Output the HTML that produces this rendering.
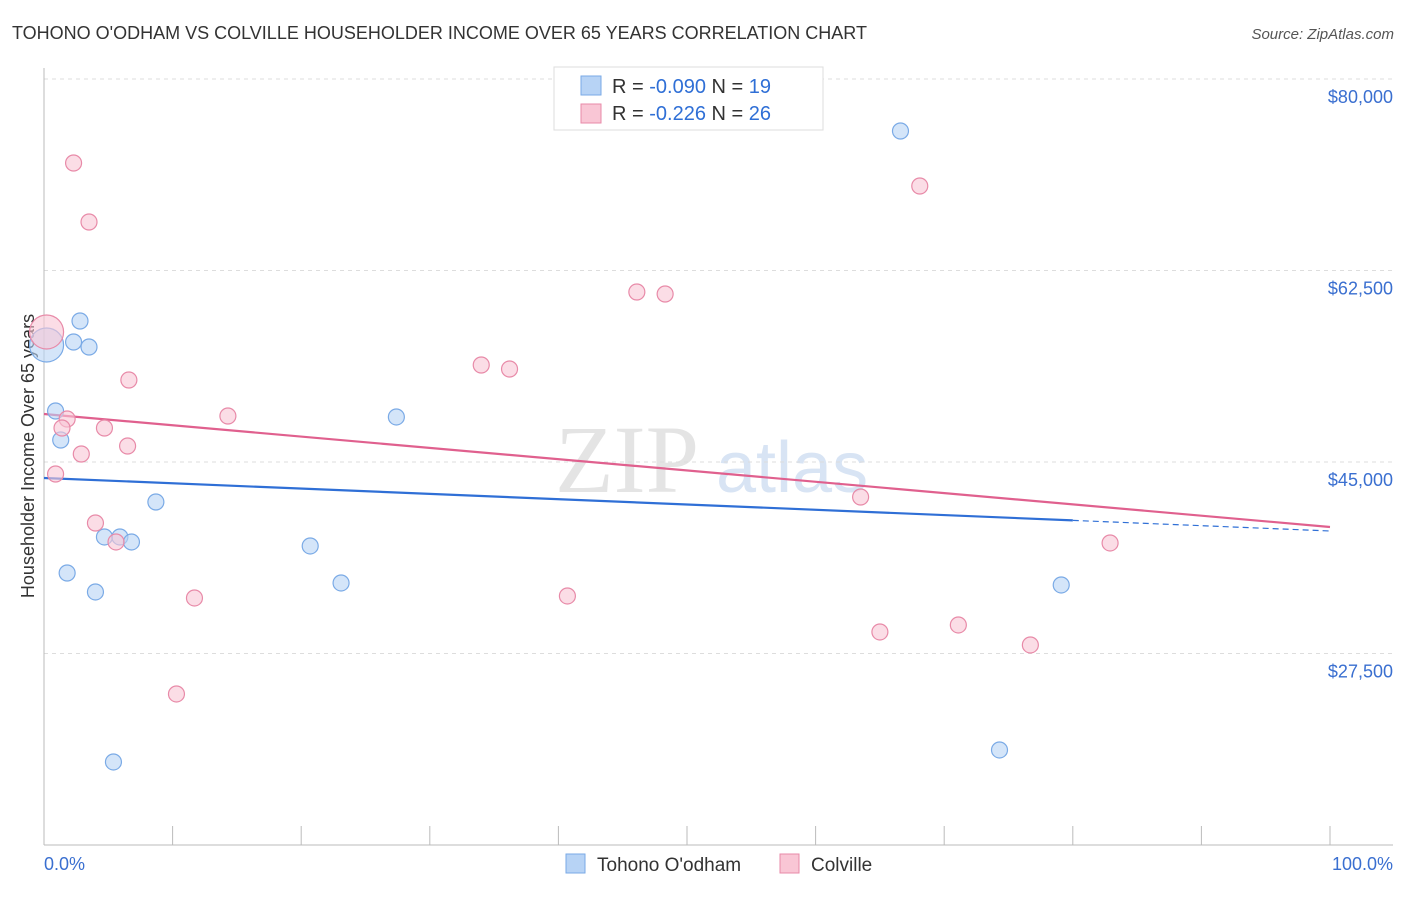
<!DOCTYPE html>
<html><head><meta charset="utf-8"><style>
body{margin:0;background:#fff;font-family:"Liberation Sans",sans-serif;}
</style></head><body>
<svg id="chart" width="1406" height="892" xmlns="http://www.w3.org/2000/svg" style="font-family:'Liberation Sans',sans-serif">
<text x="12" y="39" font-size="18" fill="#333">TOHONO O'ODHAM VS COLVILLE HOUSEHOLDER INCOME OVER 65 YEARS CORRELATION CHART</text>
<text x="1394" y="39" font-size="15" fill="#555" text-anchor="end" font-style="italic">Source: ZipAtlas.com</text>
<text x="555" y="492" font-size="96" fill="#e4e4e4" font-family="Liberation Serif">ZIP</text>
<text x="716" y="492" font-size="72" fill="#d8e4f4">atlas</text>
<text transform="translate(34,456) rotate(-90)" font-size="18" fill="#333" text-anchor="middle">Householder Income Over 65 years</text>
<g id="grid"></g><g id="axes"></g><g id="lines"></g><g id="pts"></g>
<g>
<rect x="554" y="67" width="269" height="63" fill="#fff" stroke="#ddd"/>
<rect x="581" y="76" width="20" height="19" fill="#b7d3f5" stroke="#7aaae6"/>
<rect x="581" y="104" width="20" height="19" fill="#f9c6d5" stroke="#e88aa8"/>
<text x="612" y="93" font-size="20" fill="#333">R = <tspan fill="#2f6fd6">-0.090</tspan>   N = <tspan fill="#2f6fd6"> 19</tspan></text>
<text x="612" y="120" font-size="20" fill="#333">R =  <tspan fill="#2f6fd6">-0.226</tspan>   N = <tspan fill="#2f6fd6">26</tspan></text>
</g>
<g>
<rect x="566" y="854" width="19" height="19" fill="#b7d3f5" stroke="#7aaae6"/>
<text x="597" y="871" font-size="19" fill="#333">Tohono O'odham</text>
<rect x="780" y="854" width="19" height="19" fill="#f9c6d5" stroke="#e88aa8"/>
<text x="811" y="871" font-size="19" fill="#333">Colville</text>
</g>
<text x="44" y="870" font-size="18" fill="#3a6fd0">0.0%</text>
<text x="1393" y="870" font-size="18" fill="#3a6fd0" text-anchor="end">100.0%</text>
</svg>
<script>
const yTicks=[80000,62500,45000,27500];
const yTickLabels=["$80,000","$62,500","$45,000","$27,500"];
const blueX=[0.2,2.8,2.3,3.5,0.9,1.3,8.7,4.7,5.9,6.8,1.8,4.0,20.7,23.1,27.4,66.6,79.1,74.3,5.4];
const blueY=[55693,57886,55967,55510,49662,47012,41346,38148,38148,37691,34858,33122,37326,33945,49114,75248,33762,18684,17587];
const pinkX=[0.2,2.3,3.5,6.6,1.8,14.3,4.7,6.5,2.9,0.9,4.0,5.6,11.7,10.3,46.1,48.3,34.0,36.2,40.7,63.5,68.1,65.0,71.1,76.7,82.9,1.4];
const pinkY=[56881,72324,66933,52495,48931,49205,48108,46463,45732,43905,39427,37691,32574,23802,60536,60353,53865,53500,32757,41803,70222,29467,30107,28279,37600,48108];
const blueTrend=[43540,38696];
const pinkTrend=[49388,39062];
const blueSolidEnd=80;
const X0=44,X1=1330,Y80=79,PPV=191.5/17500;
const sx=v=>X0+(X1-X0)*v/100, sy=v=>Y80+(80000-v)*PPV;
const NS="http://www.w3.org/2000/svg";
function mk(p,t,a){const e=document.createElementNS(NS,t);for(const k in a)e.setAttribute(k,a[k]);document.getElementById(p).appendChild(e);return e;}
yTicks.forEach((t,i)=>{
 const l=mk('grid','line',{x1:X0,x2:1393,y1:sy(t),y2:sy(t),stroke:'#ddd','stroke-dasharray':'4,4'});
 
 
 const tx=mk('grid','text',{x:1393,y:sy(t)+24,'font-size':18,fill:'#3a6fd0','text-anchor':'end'});
 tx.textContent=yTickLabels[i];
 
 
});
let a=mk('axes','line',{x1:X0,x2:X0,y1:68,y2:845,stroke:'#bbb'});


a=mk('axes','line',{x1:X0,x2:1393,y1:845,y2:845,stroke:'#bbb'});


for(let i=0;i<=10;i++){const t=mk('axes','line',{x1:sx(i*10),x2:sx(i*10),y1:826,y2:845,stroke:'#bbb'});
 
 }
function pts(xs,ys,fill,stroke,name){xs.forEach((x,i)=>{const c=mk('pts','circle',{cx:sx(x),cy:sy(ys[i]),r:i==0?17:8,fill:fill,'fill-opacity':0.6,stroke:stroke,'stroke-width':1.2});
 
 });}
pts(blueX,blueY,'#b7d3f5','#7aaae6','tohono-point');
pts(pinkX,pinkY,'#f9c6d5','#e88aa8','colville-point');
const by=f=>blueTrend[0]+(blueTrend[1]-blueTrend[0])*f/100;
let ln=mk('lines','line',{x1:sx(0),y1:sy(blueTrend[0]),x2:sx(blueSolidEnd),y2:sy(by(blueSolidEnd)),stroke:'#2f6fd6','stroke-width':2.2});


ln=mk('lines','line',{x1:sx(blueSolidEnd),y1:sy(by(blueSolidEnd)),x2:sx(100),y2:sy(blueTrend[1]),stroke:'#2f6fd6','stroke-width':1.2,'stroke-dasharray':'6,4'});


ln=mk('lines','line',{x1:sx(0),y1:sy(pinkTrend[0]),x2:sx(100),y2:sy(pinkTrend[1]),stroke:'#e0608e','stroke-width':2.2});


</script>
</body></html>
